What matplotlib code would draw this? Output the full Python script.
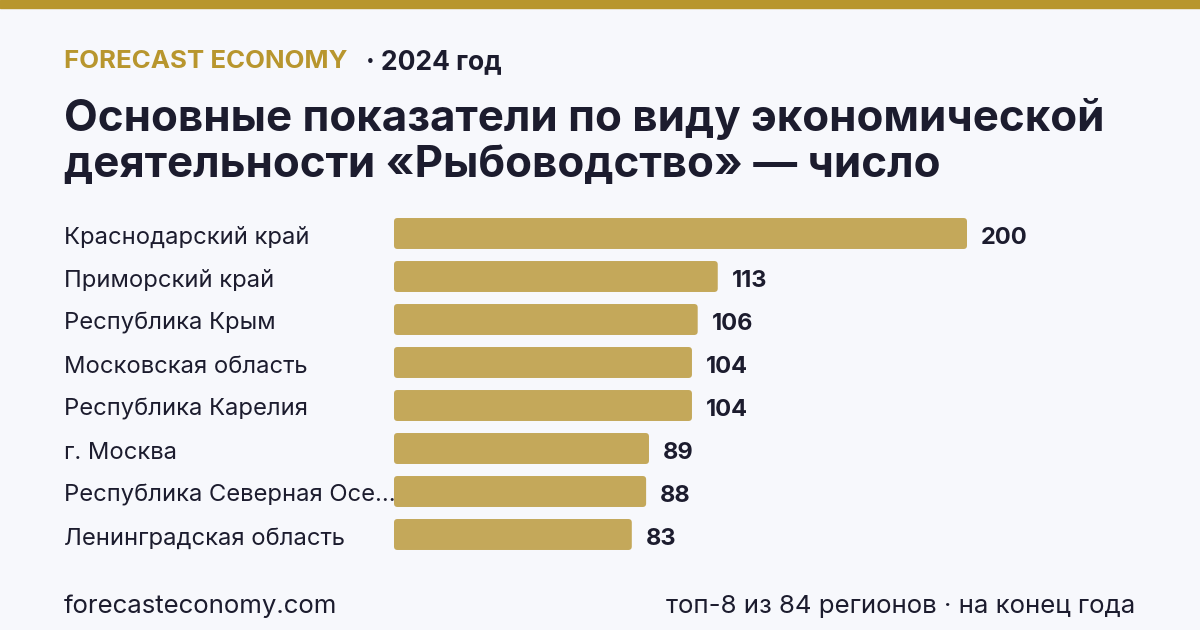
import matplotlib
matplotlib.use("Agg")
import matplotlib.pyplot as plt
from matplotlib.patches import FancyBboxPatch

plt.rcParams['font.family'] = ['Inter', 'DejaVu Sans']

regions = ["Краснодарский край", "Приморский край", "Республика Крым",
           "Московская область", "Республика Карелия", "г. Москва",
           "Республика Северная Осе…", "Ленинградская область"]
values = [200, 113, 106, 104, 104, 89, 88, 83]

BG = "#f7f8fc"
GOLD = "#b8962e"
BAR = "#c4a85a"
DARK = "#1c1c2e"

W, H = 1200, 630
fig = plt.figure(figsize=(12, 6.3), dpi=100, facecolor=BG)

def px(x, y):
    return x / W, 1 - y / H

# top stripe
fig.patches.append(plt.Rectangle((0, 1 - 8 / H), 1, 8 / H, transform=fig.transFigure,
                                 color=GOLD, zorder=0))

fig.text(*px(64, 62), "FORECAST ECONOMY", color=GOLD, fontsize=18.6, fontweight='bold',
         va='center', ha='left')
fig.text(*px(366, 62), "· 2024 год", color=DARK, fontsize=19, fontweight='bold',
         va='center', ha='left')
fig.text(*px(64, 119), "Основные показатели по виду экономической", color=DARK,
         fontsize=31.6, fontweight='bold', va='center', ha='left')
fig.text(*px(64, 166), "деятельности «Рыбоводство» — число", color=DARK,
         fontsize=31.6, fontweight='bold', va='center', ha='left')

fig.text(*px(64, 606), "forecasteconomy.com", color=DARK, fontsize=18.6,
         va='center', ha='left')
fig.text(*px(1135, 606), "топ-8 из 84 регионов · на конец года", color=DARK, fontsize=18.6,
         va='center', ha='right')

# axes: x 394..967 px for 0..200 ; y 212..556 for 8 rows
left, right = 394, 967
top, bottom = 212, 556
ax = fig.add_axes([left / W, 1 - bottom / H, (right - left) / W, (bottom - top) / H])
ax.set_facecolor('none')
ax.set_xlim(0, 200)
ax.set_ylim(len(values) - 0.5, -0.5)
ax.axis('off')

bars = ax.barh(range(len(values)), values, height=0.72, color=BAR)
xpx = (right - left) / 200.0
ypx = (bottom - top) / len(values)
for b in bars:
    b.set_visible(False)
    p = FancyBboxPatch((b.get_x(), b.get_y()), b.get_width(), b.get_height(),
                       boxstyle="round,pad=0,rounding_size=%f" % (3.5 / xpx),
                       mutation_aspect=xpx / ypx, color=BAR, linewidth=0)
    ax.add_patch(p)

for i, (r, v) in enumerate(zip(regions, values)):
    ax.text(v + 14 / xpx, i + 0.1, str(v), color=DARK, fontsize=17, fontweight='bold',
            va='center', ha='left', clip_on=False)
    ax.text(-330 / xpx, i + 0.1, r, color=DARK, fontsize=17.1, va='center', ha='left',
            clip_on=False)

fig.savefig("out.png", dpi=100, facecolor=BG)
